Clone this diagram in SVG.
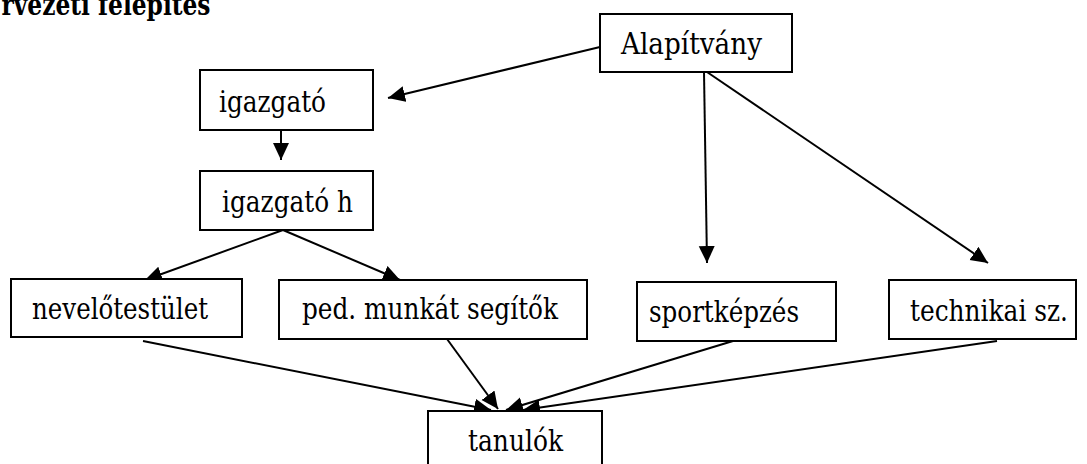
<svg xmlns="http://www.w3.org/2000/svg" width="1087" height="464" viewBox="0 0 1087 464">
<style>
.box{fill:#fff;stroke:#000;stroke-width:2}
text{font-family:'DejaVu Serif','Noto Serif','Liberation Serif','Times New Roman',serif;font-size:30px;fill:#000}
.title{font-weight:bold}
.conn{stroke:#000;stroke-width:2;fill:none;marker-end:url(#arr)}
</style>
<defs>
<marker id="arr" markerUnits="userSpaceOnUse" markerWidth="18" markerHeight="17" refX="17" refY="8" orient="auto">
<path d="M0,0 L17,8 L0,16 z" fill="#000"/>
</marker>
</defs>
<rect width="1087" height="464" fill="#fff"/>
<text class="title" x="1.5" y="15" textLength="209" lengthAdjust="spacingAndGlyphs">rvezeti felépítés</text>
<g id="connectors">
<line class="conn" x1="600" y1="47" x2="388" y2="98"/>
<line class="conn" x1="281" y1="130" x2="281" y2="160"/>
<line class="conn" x1="283" y1="230" x2="145" y2="280"/>
<line class="conn" x1="283" y1="230" x2="400" y2="280"/>
<line class="conn" x1="704" y1="72" x2="707" y2="263"/>
<line class="conn" x1="707" y1="72" x2="988" y2="263"/>
<line class="conn" x1="143" y1="341" x2="491" y2="410"/>
<line class="conn" x1="447" y1="339" x2="498" y2="409"/>
<line class="conn" x1="733" y1="341" x2="506" y2="410"/>
<line class="conn" x1="997" y1="341" x2="523" y2="410"/>
</g>
<g id="alapitvany"><rect class="box" x="600" y="14" width="192" height="58"/><text x="621" y="54" textLength="141" lengthAdjust="spacingAndGlyphs">Alapítvány</text></g>
<g id="igazgato"><rect class="box" x="200" y="70" width="173" height="60"/><text x="219" y="112" textLength="107" lengthAdjust="spacingAndGlyphs">igazgató</text></g>
<g id="igazgato-h"><rect class="box" x="200" y="171" width="173" height="59"/><text x="222" y="212" textLength="131" lengthAdjust="spacingAndGlyphs">igazgató h</text></g>
<g id="nevelotestulet"><rect class="box" x="11" y="279" width="231" height="58"/><text x="32" y="319" textLength="176" lengthAdjust="spacingAndGlyphs">nevelőtestület</text></g>
<g id="ped-munkat-segitok"><rect class="box" x="279" y="280" width="308" height="59"/><text x="302" y="319" textLength="256" lengthAdjust="spacingAndGlyphs">ped. munkát segítők</text></g>
<g id="sportkepzes"><rect class="box" x="637" y="282" width="199" height="59"/><text x="649" y="322" textLength="150" lengthAdjust="spacingAndGlyphs">sportképzés</text></g>
<g id="technikai-sz"><rect class="box" x="889" y="280" width="187" height="59"/><text x="910" y="321" textLength="158" lengthAdjust="spacingAndGlyphs">technikai sz.</text></g>
<g id="tanulok"><rect class="box" x="428" y="411" width="174" height="70"/><text x="468" y="451" textLength="95" lengthAdjust="spacingAndGlyphs">tanulók</text></g>
</svg>
